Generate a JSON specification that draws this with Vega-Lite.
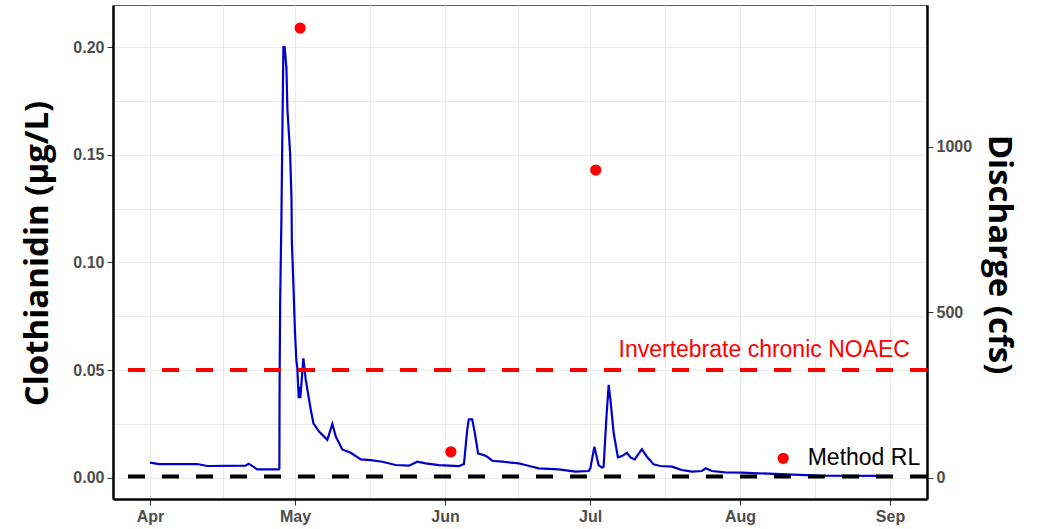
{
  "$schema": "https://vega.github.io/schema/vega-lite/v6.json",
  "width": 814,
  "height": 494,
  "autosize": {"type": "none"},
  "padding": {"left": 113, "right": 113, "top": 5, "bottom": 30},
  "background": "white",
  "datasets": {
    "discharge": [
      {"date": "2017-04-01T00:00:00Z", "cfs": 45},
      {"date": "2017-04-02T21:00:00Z", "cfs": 41},
      {"date": "2017-04-10T18:00:00Z", "cfs": 41},
      {"date": "2017-04-12T20:00:00Z", "cfs": 35},
      {"date": "2017-04-20T18:00:00Z", "cfs": 36},
      {"date": "2017-04-21T10:00:00Z", "cfs": 42},
      {"date": "2017-04-23T04:00:00Z", "cfs": 25},
      {"date": "2017-04-27T15:00:00Z", "cfs": 25},
      {"date": "2017-04-27T18:00:00Z", "cfs": 28},
      {"date": "2017-04-27T19:00:00Z", "cfs": 280},
      {"date": "2017-04-27T22:00:00Z", "cfs": 536},
      {"date": "2017-04-28T04:00:00Z", "cfs": 778},
      {"date": "2017-04-28T09:00:00Z", "cfs": 1050},
      {"date": "2017-04-28T14:00:00Z", "cfs": 1300},
      {"date": "2017-04-28T20:00:00Z", "cfs": 1300},
      {"date": "2017-04-29T05:00:00Z", "cfs": 1237},
      {"date": "2017-04-29T10:00:00Z", "cfs": 1110},
      {"date": "2017-04-29T23:00:00Z", "cfs": 983},
      {"date": "2017-04-30T06:00:00Z", "cfs": 847},
      {"date": "2017-04-30T08:00:00Z", "cfs": 712},
      {"date": "2017-04-30T16:00:00Z", "cfs": 576},
      {"date": "2017-04-30T23:00:00Z", "cfs": 446},
      {"date": "2017-05-01T06:00:00Z", "cfs": 355},
      {"date": "2017-05-01T11:00:00Z", "cfs": 331},
      {"date": "2017-05-01T18:00:00Z", "cfs": 240},
      {"date": "2017-05-01T22:00:00Z", "cfs": 274},
      {"date": "2017-05-02T02:00:00Z", "cfs": 240},
      {"date": "2017-05-02T17:00:00Z", "cfs": 360},
      {"date": "2017-05-03T05:00:00Z", "cfs": 295},
      {"date": "2017-05-04T06:00:00Z", "cfs": 204},
      {"date": "2017-05-04T19:00:00Z", "cfs": 164},
      {"date": "2017-05-05T23:00:00Z", "cfs": 139},
      {"date": "2017-05-07T16:00:00Z", "cfs": 114},
      {"date": "2017-05-08T17:00:00Z", "cfs": 162},
      {"date": "2017-05-09T10:00:00Z", "cfs": 124},
      {"date": "2017-05-10T18:00:00Z", "cfs": 85},
      {"date": "2017-05-12T12:00:00Z", "cfs": 75},
      {"date": "2017-05-14T14:00:00Z", "cfs": 55},
      {"date": "2017-05-16T15:00:00Z", "cfs": 53},
      {"date": "2017-05-19T01:00:00Z", "cfs": 48},
      {"date": "2017-05-21T19:00:00Z", "cfs": 38},
      {"date": "2017-05-24T13:00:00Z", "cfs": 36},
      {"date": "2017-05-26T06:00:00Z", "cfs": 48},
      {"date": "2017-05-28T00:00:00Z", "cfs": 43},
      {"date": "2017-05-30T18:00:00Z", "cfs": 38},
      {"date": "2017-06-03T21:00:00Z", "cfs": 35},
      {"date": "2017-06-04T22:00:00Z", "cfs": 41},
      {"date": "2017-06-05T14:00:00Z", "cfs": 144},
      {"date": "2017-06-05T22:00:00Z", "cfs": 176},
      {"date": "2017-06-06T15:00:00Z", "cfs": 176},
      {"date": "2017-06-07T04:00:00Z", "cfs": 134},
      {"date": "2017-06-07T20:00:00Z", "cfs": 73},
      {"date": "2017-06-09T01:00:00Z", "cfs": 68},
      {"date": "2017-06-09T17:00:00Z", "cfs": 63},
      {"date": "2017-06-10T18:00:00Z", "cfs": 51},
      {"date": "2017-06-12T19:00:00Z", "cfs": 48},
      {"date": "2017-06-16T06:00:00Z", "cfs": 43},
      {"date": "2017-06-17T15:00:00Z", "cfs": 38},
      {"date": "2017-06-20T09:00:00Z", "cfs": 28},
      {"date": "2017-06-24T12:00:00Z", "cfs": 25},
      {"date": "2017-06-27T23:00:00Z", "cfs": 18},
      {"date": "2017-06-30T17:00:00Z", "cfs": 20},
      {"date": "2017-07-01T01:00:00Z", "cfs": 28},
      {"date": "2017-07-01T21:00:00Z", "cfs": 93},
      {"date": "2017-07-02T18:00:00Z", "cfs": 38},
      {"date": "2017-07-03T11:00:00Z", "cfs": 30},
      {"date": "2017-07-03T19:00:00Z", "cfs": 33},
      {"date": "2017-07-04T09:00:00Z", "cfs": 184},
      {"date": "2017-07-04T20:00:00Z", "cfs": 280},
      {"date": "2017-07-05T05:00:00Z", "cfs": 234},
      {"date": "2017-07-05T21:00:00Z", "cfs": 134},
      {"date": "2017-07-06T18:00:00Z", "cfs": 61},
      {"date": "2017-07-07T14:00:00Z", "cfs": 65},
      {"date": "2017-07-08T15:00:00Z", "cfs": 75},
      {"date": "2017-07-09T08:00:00Z", "cfs": 61},
      {"date": "2017-07-10T05:00:00Z", "cfs": 55},
      {"date": "2017-07-11T17:00:00Z", "cfs": 86},
      {"date": "2017-07-12T18:00:00Z", "cfs": 63},
      {"date": "2017-07-14T03:00:00Z", "cfs": 40},
      {"date": "2017-07-15T12:00:00Z", "cfs": 35},
      {"date": "2017-07-17T22:00:00Z", "cfs": 33},
      {"date": "2017-07-19T23:00:00Z", "cfs": 23},
      {"date": "2017-07-22T01:00:00Z", "cfs": 18},
      {"date": "2017-07-24T02:00:00Z", "cfs": 20},
      {"date": "2017-07-24T22:00:00Z", "cfs": 28},
      {"date": "2017-07-26T04:00:00Z", "cfs": 20},
      {"date": "2017-07-28T22:00:00Z", "cfs": 16},
      {"date": "2017-08-01T09:00:00Z", "cfs": 15},
      {"date": "2017-08-04T19:00:00Z", "cfs": 13},
      {"date": "2017-08-17T05:00:00Z", "cfs": 6},
      {"date": "2017-09-01T00:00:00Z", "cfs": 5}
    ],
    "samples": [
      {"date": "2017-05-02T01:00:00Z", "conc": 0.2089},
      {"date": "2017-06-02T05:00:00Z", "conc": 0.012},
      {"date": "2017-07-02T04:00:00Z", "conc": 0.1429}
    ],
    "thresholds": [
      {"name": "Invertebrate chronic NOAEC", "value": 0.05},
      {"name": "Method RL", "value": 0.0005}
    ],
    "annotations": [
      {"date": "2017-09-05T03:00:00Z", "value": 0.0559, "label": "Invertebrate chronic NOAEC"}
    ]
  },
  "layer": [
    {
      "data": {"name": "discharge"},
      "mark": {"type": "line", "color": "#0000CD", "strokeWidth": 2.2},
      "encoding": {
        "x": {
          "field": "date", "type": "temporal",
          "scale": {"type": "utc", "domain": [
            {"year": 2017, "month": 3, "date": 24, "hours": 8, "minutes": 24, "utc": true},
            {"year": 2017, "month": 9, "date": 8, "hours": 15, "minutes": 36, "utc": true}
          ]},
          "axis": {
            "title": null,
            "values": [
              {"year": 2017, "month": 4, "date": 1, "utc": true},
              {"year": 2017, "month": 4, "date": 16, "utc": true},
              {"year": 2017, "month": 5, "date": 1, "utc": true},
              {"year": 2017, "month": 5, "date": 16, "hours": 12, "utc": true},
              {"year": 2017, "month": 6, "date": 1, "utc": true},
              {"year": 2017, "month": 6, "date": 16, "utc": true},
              {"year": 2017, "month": 7, "date": 1, "utc": true},
              {"year": 2017, "month": 7, "date": 16, "hours": 12, "utc": true},
              {"year": 2017, "month": 8, "date": 1, "utc": true},
              {"year": 2017, "month": 8, "date": 16, "hours": 12, "utc": true},
              {"year": 2017, "month": 9, "date": 1, "utc": true}
            ],
            "labelExpr": "utcdate(datum.value) == 1 ? utcFormat(datum.value, '%b') : ''",
            "tickOpacity": {"condition": {"test": "utcdate(datum.value) != 1", "value": 0}, "value": 1},
            "grid": true, "gridColor": "#EBEBEB", "gridWidth": 1,
            "domainColor": "#000000", "domainWidth": 2.5,
            "tickColor": "#333333", "tickSize": 6, "tickWidth": 1,
            "labelPadding": 3, "labelFont": "Liberation Sans", "labelFontWeight": "bold",
            "labelFontSize": 16, "labelColor": "#4D4D4D",
            "labelOverlap": false, "labelFlush": false, "labelBound": false
          }
        },
        "y": {
          "field": "cfs", "type": "quantitative",
          "scale": {"domain": [-64.6, 1427.4], "nice": false, "zero": false},
          "axis": {
            "orient": "right", "title": "Discharge (cfs)", "values": [0, 500, 1000], "format": "d",
            "grid": false,
            "domainColor": "#000000", "domainWidth": 2.5,
            "tickColor": "#333333", "tickSize": 6, "tickWidth": 1,
            "labelPadding": 3, "labelFont": "Liberation Sans", "labelFontWeight": "bold",
            "labelFontSize": 16, "labelColor": "#4D4D4D",
            "titleFont": "Open Sans", "titleFontWeight": "bold", "titleFontSize": 33, "titleColor": "#000000",
            "titleAngle": 90, "titleX": 61.3, "titleY": 249, "titleAlign": "center", "titleBaseline": "alphabetic"
          }
        }
      }
    },
    {
      "layer": [
        {
          "data": {"name": "thresholds"},
          "transform": [{"filter": "datum.name === 'Invertebrate chronic NOAEC'"}],
          "mark": {"type": "rule", "color": "#FF0000", "strokeWidth": 4, "strokeDash": [17, 17]},
          "encoding": {
            "y": {
              "field": "value", "type": "quantitative",
              "scale": {"domain": [-0.00994, 0.2196], "nice": false, "zero": false},
              "axis": {
                "orient": "left", "title": "Clothianidin (µg/L)",
                "values": [0, 0.025, 0.05, 0.075, 0.1, 0.125, 0.15, 0.175, 0.2],
                "labelExpr": "abs(datum.value * 20 - round(datum.value * 20)) < 0.001 ? format(datum.value, '.2f') : ''",
                "tickOpacity": {"condition": {"test": "abs(datum.value * 20 - round(datum.value * 20)) > 0.001", "value": 0}, "value": 1},
                "grid": true, "gridColor": "#EBEBEB", "gridWidth": 1,
                "domainColor": "#000000", "domainWidth": 2.5,
                "tickColor": "#333333", "tickSize": 6, "tickWidth": 1,
                "labelPadding": 3, "labelFont": "Liberation Sans", "labelFontWeight": "bold",
                "labelFontSize": 16, "labelColor": "#4D4D4D", "labelOverlap": false,
                "titleFont": "Open Sans", "titleFontWeight": "bold", "titleFontSize": 33, "titleColor": "#000000",
                "titleAngle": -90, "titleX": -66, "titleY": 248, "titleAlign": "center", "titleBaseline": "alphabetic"
              }
            }
          }
        },
        {
          "data": {"name": "thresholds"},
          "transform": [{"filter": "datum.name === 'Method RL'"}],
          "mark": {"type": "rule", "color": "#000000", "strokeWidth": 4, "strokeDash": [17, 17]},
          "encoding": {
            "y": {"field": "value", "type": "quantitative", "scale": {"domain": [-0.00994, 0.2196], "nice": false, "zero": false}}
          }
        },
        {
          "data": {"name": "samples"},
          "mark": {"type": "circle", "size": 127, "opacity": 1},
          "encoding": {
            "x": {"field": "date", "type": "temporal", "scale": {"type": "utc", "domain": [
              {"year": 2017, "month": 3, "date": 24, "hours": 8, "minutes": 24, "utc": true},
              {"year": 2017, "month": 9, "date": 8, "hours": 15, "minutes": 36, "utc": true}
            ]}},
            "y": {"field": "conc", "type": "quantitative", "scale": {"domain": [-0.00994, 0.2196], "nice": false, "zero": false}},
            "color": {
              "datum": "Method RL",
              "scale": {"domain": ["Method RL"], "range": ["#FF0000"]},
              "legend": {
                "orient": "none", "legendX": 658.7, "legendY": 441.8, "title": null,
                "labelFont": "Liberation Sans", "labelFontSize": 23, "labelColor": "#000000",
                "labelOffset": 13, "symbolSize": 127, "symbolOpacity": 1, "symbolStrokeWidth": 0,
                "symbolType": "circle", "padding": 0
              }
            }
          }
        },
        {
          "data": {"name": "annotations"},
          "mark": {"type": "text", "align": "right", "baseline": "alphabetic", "font": "Liberation Sans", "fontSize": 23, "color": "#FF0000"},
          "encoding": {
            "x": {"field": "date", "type": "temporal", "scale": {"type": "utc", "domain": [
              {"year": 2017, "month": 3, "date": 24, "hours": 8, "minutes": 24, "utc": true},
              {"year": 2017, "month": 9, "date": 8, "hours": 15, "minutes": 36, "utc": true}
            ]}},
            "y": {"field": "value", "type": "quantitative", "scale": {"domain": [-0.00994, 0.2196], "nice": false, "zero": false}},
            "text": {"field": "label"}
          }
        }
      ]
    }
  ],
  "resolve": {"scale": {"y": "independent"}},
  "config": {
    "view": {"stroke": "#595959", "strokeWidth": 1}
  }
}
